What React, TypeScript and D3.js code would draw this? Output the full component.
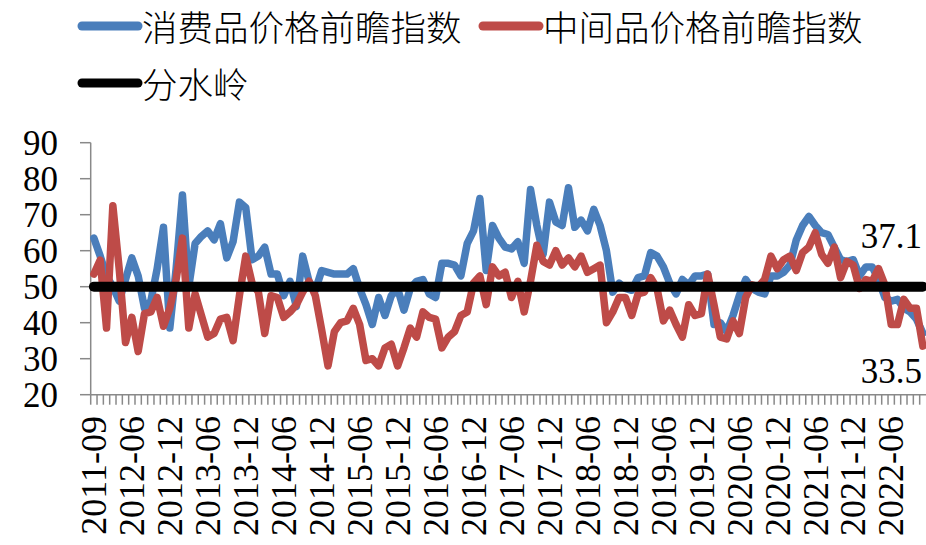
import React, { useMemo } from 'react';
import * as d3 from 'd3';

// first months are irregular, monthly from 2012-06 on
const EARLY_MONTHS = ['2011-09', '2011-10', '2011-11', '2011-12', '2012-04', '2012-05'];
const buildMonths = (): string[] => {
  const out = [...EARLY_MONTHS];
  for (let y = 2012; y <= 2022; y++) {
    for (let m = 1; m <= 12; m++) {
      if (y === 2012 && m < 6) continue;
      if (y === 2022 && m > 11) continue;
      out.push(`${y}-${String(m).padStart(2, '0')}`);
    }
  }
  return out;
};
const months = buildMonths();

const consumerIndex = [
  63.5, 58.5, 53, 50, 46, 52, 58, 53, 44, 46, 55, 66.5, 38.5, 55, 75.5, 50, 62, 64, 65.5, 63,
  67.5, 58, 62.5, 73.5, 72, 57.5, 58.5, 61, 53.5, 53.5, 47.5, 51.5, 44.5, 58.5, 51.5, 49, 54.5, 54, 53.5, 53.5,
  53.5, 55, 49.5, 45, 39.5, 47, 42, 47.5, 49.5, 43.5, 49.5, 51.5, 52, 48, 47, 56.5, 56.5, 56, 53, 62,
  65.5, 74.5, 54.5, 67, 63.5, 61, 60.5, 62.5, 56.5, 77, 67, 59, 73.5, 68, 67, 77.5, 66.5, 68.5, 65.5, 71.5,
  67, 60, 48.5, 51, 49.5, 49, 52.5, 53, 59.5, 58.5, 55.5, 51, 48, 52, 50.5, 53, 53, 53.5, 39.5, 40,
  37.5, 42, 47.5, 52, 49.5, 48.5, 48, 53, 53, 54, 56, 63, 67, 69.5, 67, 65, 64.5, 61, 57.5, 57,
  57.5, 53, 55.5, 55.5, 52, 47, 46, 46.5, 44, 43, 41, 37.1,
];

const intermediateIndex = [
  53.5, 57.4, 38.5, 72.5, 55, 34.5, 41.5, 32, 42.5, 43, 47, 39, 44, 52, 63.5, 38.5, 48, 42, 36, 37,
  41, 41.5, 35, 47.5, 58.5, 51, 48.5, 37, 47.5, 47, 41.5, 43, 45, 48.5, 51.5, 47.5, 38, 28, 37.5, 40,
  40.5, 44, 39.5, 29.5, 30, 28, 33, 34, 28, 33, 38.5, 36, 43, 41.5, 41, 33, 36, 37.5, 42, 43,
  51, 53, 45, 55.5, 53, 54, 47, 51.5, 43, 51.5, 61.5, 57, 56, 60, 56, 58, 55.5, 58.5, 54, 55,
  56, 40, 43, 47, 47, 42, 48, 48.5, 52.5, 49.5, 40.5, 43.5, 39.5, 36, 45, 42, 42.5, 53.5, 45, 36,
  35.5, 40.5, 37, 47, 50.5, 50, 52, 58.5, 55, 57.5, 58.5, 54.5, 59.5, 61, 65, 59, 56.5, 61, 52.5, 57,
  56, 49.5, 52, 51.5, 55, 50.5, 39.5, 39.5, 46.5, 44, 44, 33.5,
];

const watershed = months.map(() => 50);

const yTickValues = [20, 30, 40, 50, 60, 70, 80, 90];
const labelEvery = 6;
const endLabels = ['37.1', '33.5'];

const seriesNames = ['消费品价格前瞻指数', '中间品价格前瞻指数', '分水岭'];
const seriesColors = ['#4A7EBB', '#BE4B48', '#000000'];

const W = 926;
const H = 545;
const plot = { left: 90.7, right: 926, top: 142.7, bottom: 394.7 };
const numFont = '"Liberation Serif", "Times New Roman", serif';
const cjkFont = '"Noto Sans CJK SC", sans-serif';
const axisGray = '#898989';

const App: React.FC = () => {
  const x = useMemo(
    () => d3.scaleBand<string>().domain(months).range([plot.left, plot.right]).padding(0),
    []
  );
  const y = useMemo(
    () => d3.scaleLinear().domain([20, 90]).range([plot.bottom, plot.top]),
    []
  );
  const cx = (m: string) => (x(m) || 0) + x.bandwidth() / 2;

  const line = d3
    .line<number>()
    .x((_, i) => cx(months[i]))
    .y(d => y(d));

  return (
    <svg
      width={W}
      height={H}
      style={{ position: 'absolute', left: 0, top: 0, background: '#fff' }}
    >
      {/* Legend */}
      <g fontFamily={cjkFont} fontSize={35.5} fontWeight={300}>
        <line x1={82} x2={138} y1={26} y2={26} stroke={seriesColors[0]} strokeWidth={9} strokeLinecap="round" />
        <text x={142} y={41}>{seriesNames[0]}</text>
        <line x1={483} x2={539} y1={26} y2={26} stroke={seriesColors[1]} strokeWidth={9} strokeLinecap="round" />
        <text x={543} y={41}>{seriesNames[1]}</text>
        <line x1={82} x2={138} y1={83} y2={83} stroke={seriesColors[2]} strokeWidth={9} strokeLinecap="round" />
        <text x={142} y={98}>{seriesNames[2]}</text>
      </g>

      {/* Y axis */}
      <line x1={plot.left} x2={plot.left} y1={plot.top} y2={plot.bottom} stroke={axisGray} strokeWidth={1.5} />
      {yTickValues.map(t => (
        <g key={`y-${t}`}>
          <line x1={80} x2={plot.left} y1={y(t)} y2={y(t)} stroke={axisGray} strokeWidth={1.5} />
          <text
            x={58}
            y={y(t)}
            dy="0.34em"
            textAnchor="end"
            fontFamily={numFont}
            fontSize={35}
          >
            {t}
          </text>
        </g>
      ))}

      {/* X axis */}
      <line x1={plot.left} x2={plot.right} y1={plot.bottom} y2={plot.bottom} stroke={axisGray} strokeWidth={1.5} />
      {months.map(m => (
        <line
          key={`xt-${m}`}
          x1={x(m)}
          x2={x(m)}
          y1={plot.bottom}
          y2={plot.bottom + 10}
          stroke={axisGray}
          strokeWidth={1.5}
        />
      ))}
      {months.map((m, i) =>
        i % labelEvery === 0 ? (
          <text
            key={`xl-${m}`}
            transform={`translate(${cx(m)}, 416) rotate(-90)`}
            dy="0.34em"
            textAnchor="end"
            fontFamily={numFont}
            fontSize={36}
          >
            {m}
          </text>
        ) : null
      )}

      {/* Series */}
      <path d={line(consumerIndex) || ''} fill="none" stroke={seriesColors[0]} strokeWidth={7.5} strokeLinejoin="round" strokeLinecap="round" />
      <path d={line(intermediateIndex) || ''} fill="none" stroke={seriesColors[1]} strokeWidth={7.5} strokeLinejoin="round" strokeLinecap="round" />
      <path d={line(watershed) || ''} fill="none" stroke={seriesColors[2]} strokeWidth={10} strokeLinecap="round" />

      {/* End value labels */}
      <text x={922} y={248} textAnchor="end" fontFamily={numFont} fontSize={35}>{endLabels[0]}</text>
      <text x={922} y={383} textAnchor="end" fontFamily={numFont} fontSize={35}>{endLabels[1]}</text>
    </svg>
  );
};

export default App;
